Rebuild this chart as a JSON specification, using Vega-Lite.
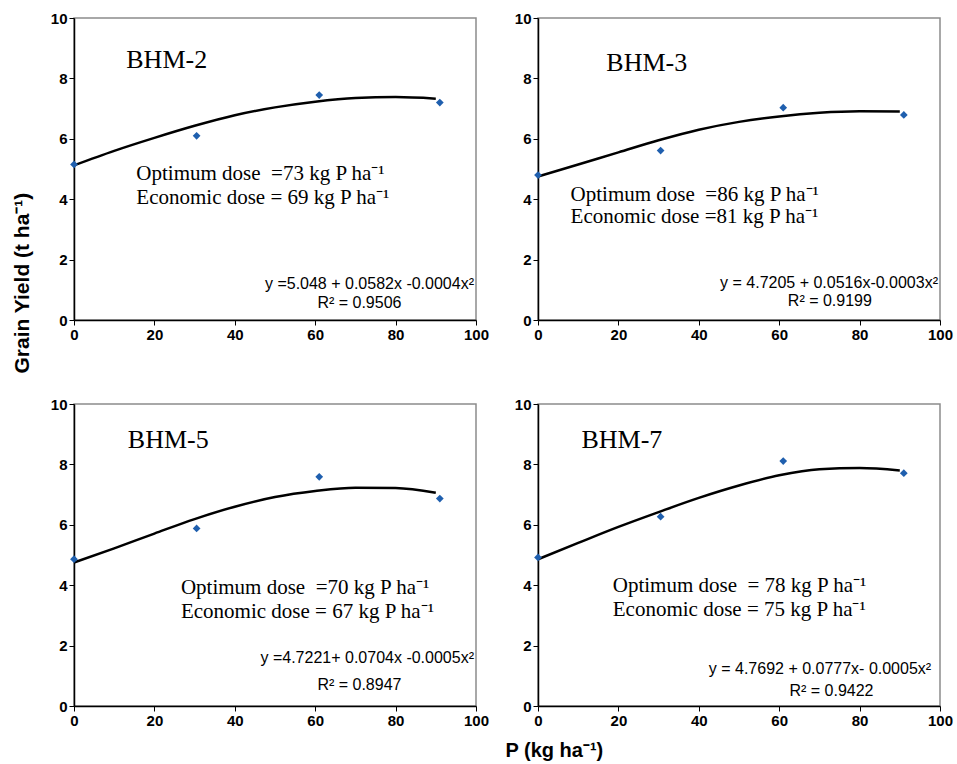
{
  "$schema": "https://vega.github.io/schema/vega-lite/v6.json",
  "background": "white",
  "padding": {"left": 10, "top": 10, "right": 5, "bottom": 5},
  "datasets": {
    "pts": [
      {"cultivar": "BHM-2", "P": 0, "yield": 5.15}, {"cultivar": "BHM-2", "P": 30.5, "yield": 6.1}, {"cultivar": "BHM-2", "P": 61, "yield": 7.45}, {"cultivar": "BHM-2", "P": 91, "yield": 7.2},
      {"cultivar": "BHM-3", "P": 0, "yield": 4.8}, {"cultivar": "BHM-3", "P": 30.5, "yield": 5.61}, {"cultivar": "BHM-3", "P": 61, "yield": 7.03}, {"cultivar": "BHM-3", "P": 91, "yield": 6.79},
      {"cultivar": "BHM-5", "P": 0, "yield": 4.86}, {"cultivar": "BHM-5", "P": 30.5, "yield": 5.88}, {"cultivar": "BHM-5", "P": 61, "yield": 7.59}, {"cultivar": "BHM-5", "P": 91, "yield": 6.87},
      {"cultivar": "BHM-7", "P": 0, "yield": 4.92}, {"cultivar": "BHM-7", "P": 30.5, "yield": 6.27}, {"cultivar": "BHM-7", "P": 61, "yield": 8.11}, {"cultivar": "BHM-7", "P": 91, "yield": 7.71}
    ],
    "fit": [
      {"cultivar": "BHM-2", "P": 0, "yield": 5.12}, {"cultivar": "BHM-2", "P": 10, "yield": 5.6}, {"cultivar": "BHM-2", "P": 20, "yield": 6.03}, {"cultivar": "BHM-2", "P": 30, "yield": 6.43}, {"cultivar": "BHM-2", "P": 40, "yield": 6.78}, {"cultivar": "BHM-2", "P": 50, "yield": 7.04}, {"cultivar": "BHM-2", "P": 60, "yield": 7.23}, {"cultivar": "BHM-2", "P": 70, "yield": 7.35}, {"cultivar": "BHM-2", "P": 80, "yield": 7.38}, {"cultivar": "BHM-2", "P": 90, "yield": 7.33},
      {"cultivar": "BHM-3", "P": 0, "yield": 4.75}, {"cultivar": "BHM-3", "P": 10, "yield": 5.15}, {"cultivar": "BHM-3", "P": 20, "yield": 5.55}, {"cultivar": "BHM-3", "P": 30, "yield": 5.95}, {"cultivar": "BHM-3", "P": 40, "yield": 6.3}, {"cultivar": "BHM-3", "P": 50, "yield": 6.56}, {"cultivar": "BHM-3", "P": 60, "yield": 6.74}, {"cultivar": "BHM-3", "P": 70, "yield": 6.86}, {"cultivar": "BHM-3", "P": 80, "yield": 6.91}, {"cultivar": "BHM-3", "P": 90, "yield": 6.9},
      {"cultivar": "BHM-5", "P": 0, "yield": 4.75}, {"cultivar": "BHM-5", "P": 10, "yield": 5.22}, {"cultivar": "BHM-5", "P": 20, "yield": 5.71}, {"cultivar": "BHM-5", "P": 30, "yield": 6.19}, {"cultivar": "BHM-5", "P": 40, "yield": 6.6}, {"cultivar": "BHM-5", "P": 50, "yield": 6.92}, {"cultivar": "BHM-5", "P": 60, "yield": 7.12}, {"cultivar": "BHM-5", "P": 70, "yield": 7.23}, {"cultivar": "BHM-5", "P": 80, "yield": 7.22}, {"cultivar": "BHM-5", "P": 90, "yield": 7.06},
      {"cultivar": "BHM-7", "P": 0, "yield": 4.86}, {"cultivar": "BHM-7", "P": 10, "yield": 5.4}, {"cultivar": "BHM-7", "P": 20, "yield": 5.93}, {"cultivar": "BHM-7", "P": 30, "yield": 6.42}, {"cultivar": "BHM-7", "P": 40, "yield": 6.89}, {"cultivar": "BHM-7", "P": 50, "yield": 7.3}, {"cultivar": "BHM-7", "P": 60, "yield": 7.64}, {"cultivar": "BHM-7", "P": 70, "yield": 7.84}, {"cultivar": "BHM-7", "P": 80, "yield": 7.88}, {"cultivar": "BHM-7", "P": 90, "yield": 7.8}
    ],
    "lbl": [
      {"cultivar": "BHM-2", "kind": "title", "P": 13, "yield": 8.6, "text": "BHM-2"},
      {"cultivar": "BHM-2", "kind": "dose", "P": 15.5, "yield": 4.85, "text": "Optimum dose\u00a0 =73 kg P ha⁻¹"},
      {"cultivar": "BHM-2", "kind": "dose", "P": 15.5, "yield": 4.03, "text": "Economic dose = 69 kg P ha⁻¹"},
      {"cultivar": "BHM-2", "kind": "eq", "P": 99.5, "yield": 1.18, "text": "y =5.048 + 0.0582x -0.0004x²"},
      {"cultivar": "BHM-2", "kind": "r2", "P": 71, "yield": 0.57, "text": "R² = 0.9506"},
      {"cultivar": "BHM-3", "kind": "title", "P": 17, "yield": 8.5, "text": "BHM-3"},
      {"cultivar": "BHM-3", "kind": "dose", "P": 8.1, "yield": 4.14, "text": "Optimum dose\u00a0 =86 kg P ha⁻¹"},
      {"cultivar": "BHM-3", "kind": "dose", "P": 8.1, "yield": 3.42, "text": "Economic dose =81 kg P ha⁻¹"},
      {"cultivar": "BHM-3", "kind": "eq", "P": 99.5, "yield": 1.24, "text": "y = 4.7205 + 0.0516x-0.0003x²"},
      {"cultivar": "BHM-3", "kind": "r2", "P": 72.6, "yield": 0.63, "text": "R² = 0.9199"},
      {"cultivar": "BHM-5", "kind": "title", "P": 13.4, "yield": 8.8, "text": "BHM-5"},
      {"cultivar": "BHM-5", "kind": "dose", "P": 26.6, "yield": 3.9, "text": "Optimum dose\u00a0 =70 kg P ha⁻¹"},
      {"cultivar": "BHM-5", "kind": "dose", "P": 26.6, "yield": 3.1, "text": "Economic dose = 67 kg P ha⁻¹"},
      {"cultivar": "BHM-5", "kind": "eq", "P": 99.5, "yield": 1.58, "text": "y =4.7221+ 0.0704x -0.0005x²"},
      {"cultivar": "BHM-5", "kind": "r2", "P": 71, "yield": 0.68, "text": "R² = 0.8947"},
      {"cultivar": "BHM-7", "kind": "title", "P": 10.8, "yield": 8.8, "text": "BHM-7"},
      {"cultivar": "BHM-7", "kind": "dose", "P": 18.6, "yield": 3.97, "text": "Optimum dose\u00a0 = 78 kg P ha⁻¹"},
      {"cultivar": "BHM-7", "kind": "dose", "P": 18.6, "yield": 3.18, "text": "Economic dose = 75 kg P ha⁻¹"},
      {"cultivar": "BHM-7", "kind": "eq", "P": 97.8, "yield": 1.24, "text": "y = 4.7692 + 0.0777x- 0.0005x²"},
      {"cultivar": "BHM-7", "kind": "r2", "P": 73, "yield": 0.5, "text": "R² = 0.9422"}
    ]
  },
  "columns": 2,
  "bounds": "flush",
  "spacing": {"column": 62, "row": 84},
  "concat": [
    {
      "width": 402, "height": 302,
      "encoding": {
        "x": {"field": "P", "type": "quantitative", "scale": {"domain": [0, 100]}, "axis": {"values": [0, 20, 40, 60, 80, 100], "title": null}},
        "y": {"field": "yield", "type": "quantitative", "scale": {"domain": [0, 10]}, "axis": {"values": [0, 2, 4, 6, 8, 10], "title": "Grain Yield (t ha⁻¹)", "titleX": -52, "titleY": 355, "titleAngle": 270, "titleAlign": "left", "titleBaseline": "middle", "titleFontSize": 21}}
      },
      "layer": [
        {"data": {"name": "fit"}, "transform": [{"filter": "datum.cultivar === 'BHM-2'"}], "mark": {"type": "line", "color": "black", "strokeWidth": 2.5, "interpolate": "monotone"}},
        {"data": {"name": "pts"}, "transform": [{"filter": "datum.cultivar === 'BHM-2'"}], "mark": {"type": "point", "shape": "diamond", "filled": true, "color": "#1f5fae", "size": 60, "opacity": 1}},
        {"data": {"name": "lbl"}, "transform": [{"filter": "datum.cultivar === 'BHM-2' && datum.kind === 'title'"}], "mark": {"type": "text", "font": "Liberation Serif", "fontSize": 26, "align": "left", "baseline": "middle", "color": "black"}, "encoding": {"text": {"field": "text"}}},
        {"data": {"name": "lbl"}, "transform": [{"filter": "datum.cultivar === 'BHM-2' && datum.kind === 'dose'"}], "mark": {"type": "text", "font": "Liberation Serif", "fontSize": 21, "align": "left", "baseline": "middle", "color": "black"}, "encoding": {"text": {"field": "text"}}},
        {"data": {"name": "lbl"}, "transform": [{"filter": "datum.cultivar === 'BHM-2' && datum.kind === 'eq'"}], "mark": {"type": "text", "font": "Liberation Sans", "fontSize": 16, "align": "right", "baseline": "middle", "color": "black"}, "encoding": {"text": {"field": "text"}}},
        {"data": {"name": "lbl"}, "transform": [{"filter": "datum.cultivar === 'BHM-2' && datum.kind === 'r2'"}], "mark": {"type": "text", "font": "Liberation Sans", "fontSize": 16, "align": "center", "baseline": "middle", "color": "black"}, "encoding": {"text": {"field": "text"}}}
      ]
    },
    {
      "width": 402, "height": 302,
      "encoding": {
        "x": {"field": "P", "type": "quantitative", "scale": {"domain": [0, 100]}, "axis": {"values": [0, 20, 40, 60, 80, 100], "title": null}},
        "y": {"field": "yield", "type": "quantitative", "scale": {"domain": [0, 10]}, "axis": {"values": [0, 2, 4, 6, 8, 10], "title": null}}
      },
      "layer": [
        {"data": {"name": "fit"}, "transform": [{"filter": "datum.cultivar === 'BHM-3'"}], "mark": {"type": "line", "color": "black", "strokeWidth": 2.5, "interpolate": "monotone"}},
        {"data": {"name": "pts"}, "transform": [{"filter": "datum.cultivar === 'BHM-3'"}], "mark": {"type": "point", "shape": "diamond", "filled": true, "color": "#1f5fae", "size": 60, "opacity": 1}},
        {"data": {"name": "lbl"}, "transform": [{"filter": "datum.cultivar === 'BHM-3' && datum.kind === 'title'"}], "mark": {"type": "text", "font": "Liberation Serif", "fontSize": 26, "align": "left", "baseline": "middle", "color": "black"}, "encoding": {"text": {"field": "text"}}},
        {"data": {"name": "lbl"}, "transform": [{"filter": "datum.cultivar === 'BHM-3' && datum.kind === 'dose'"}], "mark": {"type": "text", "font": "Liberation Serif", "fontSize": 21, "align": "left", "baseline": "middle", "color": "black"}, "encoding": {"text": {"field": "text"}}},
        {"data": {"name": "lbl"}, "transform": [{"filter": "datum.cultivar === 'BHM-3' && datum.kind === 'eq'"}], "mark": {"type": "text", "font": "Liberation Sans", "fontSize": 16, "align": "right", "baseline": "middle", "color": "black"}, "encoding": {"text": {"field": "text"}}},
        {"data": {"name": "lbl"}, "transform": [{"filter": "datum.cultivar === 'BHM-3' && datum.kind === 'r2'"}], "mark": {"type": "text", "font": "Liberation Sans", "fontSize": 16, "align": "center", "baseline": "middle", "color": "black"}, "encoding": {"text": {"field": "text"}}}
      ]
    },
    {
      "width": 402, "height": 302,
      "encoding": {
        "x": {"field": "P", "type": "quantitative", "scale": {"domain": [0, 100]}, "axis": {"values": [0, 20, 40, 60, 80, 100], "title": null}},
        "y": {"field": "yield", "type": "quantitative", "scale": {"domain": [0, 10]}, "axis": {"values": [0, 2, 4, 6, 8, 10], "title": null}}
      },
      "layer": [
        {"data": {"name": "fit"}, "transform": [{"filter": "datum.cultivar === 'BHM-5'"}], "mark": {"type": "line", "color": "black", "strokeWidth": 2.5, "interpolate": "monotone"}},
        {"data": {"name": "pts"}, "transform": [{"filter": "datum.cultivar === 'BHM-5'"}], "mark": {"type": "point", "shape": "diamond", "filled": true, "color": "#1f5fae", "size": 60, "opacity": 1}},
        {"data": {"name": "lbl"}, "transform": [{"filter": "datum.cultivar === 'BHM-5' && datum.kind === 'title'"}], "mark": {"type": "text", "font": "Liberation Serif", "fontSize": 26, "align": "left", "baseline": "middle", "color": "black"}, "encoding": {"text": {"field": "text"}}},
        {"data": {"name": "lbl"}, "transform": [{"filter": "datum.cultivar === 'BHM-5' && datum.kind === 'dose'"}], "mark": {"type": "text", "font": "Liberation Serif", "fontSize": 21, "align": "left", "baseline": "middle", "color": "black"}, "encoding": {"text": {"field": "text"}}},
        {"data": {"name": "lbl"}, "transform": [{"filter": "datum.cultivar === 'BHM-5' && datum.kind === 'eq'"}], "mark": {"type": "text", "font": "Liberation Sans", "fontSize": 16, "align": "right", "baseline": "middle", "color": "black"}, "encoding": {"text": {"field": "text"}}},
        {"data": {"name": "lbl"}, "transform": [{"filter": "datum.cultivar === 'BHM-5' && datum.kind === 'r2'"}], "mark": {"type": "text", "font": "Liberation Sans", "fontSize": 16, "align": "center", "baseline": "middle", "color": "black"}, "encoding": {"text": {"field": "text"}}}
      ]
    },
    {
      "width": 402, "height": 302,
      "encoding": {
        "x": {"field": "P", "type": "quantitative", "scale": {"domain": [0, 100]}, "axis": {"values": [0, 20, 40, 60, 80, 100], "title": "P (kg ha⁻¹)", "titleX": -33, "titleY": 44, "titleAlign": "left", "titleBaseline": "middle", "titleFontSize": 20}},
        "y": {"field": "yield", "type": "quantitative", "scale": {"domain": [0, 10]}, "axis": {"values": [0, 2, 4, 6, 8, 10], "title": null}}
      },
      "layer": [
        {"data": {"name": "fit"}, "transform": [{"filter": "datum.cultivar === 'BHM-7'"}], "mark": {"type": "line", "color": "black", "strokeWidth": 2.5, "interpolate": "monotone"}},
        {"data": {"name": "pts"}, "transform": [{"filter": "datum.cultivar === 'BHM-7'"}], "mark": {"type": "point", "shape": "diamond", "filled": true, "color": "#1f5fae", "size": 60, "opacity": 1}},
        {"data": {"name": "lbl"}, "transform": [{"filter": "datum.cultivar === 'BHM-7' && datum.kind === 'title'"}], "mark": {"type": "text", "font": "Liberation Serif", "fontSize": 26, "align": "left", "baseline": "middle", "color": "black"}, "encoding": {"text": {"field": "text"}}},
        {"data": {"name": "lbl"}, "transform": [{"filter": "datum.cultivar === 'BHM-7' && datum.kind === 'dose'"}], "mark": {"type": "text", "font": "Liberation Serif", "fontSize": 21, "align": "left", "baseline": "middle", "color": "black"}, "encoding": {"text": {"field": "text"}}},
        {"data": {"name": "lbl"}, "transform": [{"filter": "datum.cultivar === 'BHM-7' && datum.kind === 'eq'"}], "mark": {"type": "text", "font": "Liberation Sans", "fontSize": 16, "align": "right", "baseline": "middle", "color": "black"}, "encoding": {"text": {"field": "text"}}},
        {"data": {"name": "lbl"}, "transform": [{"filter": "datum.cultivar === 'BHM-7' && datum.kind === 'r2'"}], "mark": {"type": "text", "font": "Liberation Sans", "fontSize": 16, "align": "center", "baseline": "middle", "color": "black"}, "encoding": {"text": {"field": "text"}}}
      ]
    }
  ],
  "config": {
    "view": {"stroke": "#8c8c8c", "strokeWidth": 1.5},
    "axis": {
      "grid": false,
      "domainColor": "black",
      "domainWidth": 1.5,
      "tickColor": "black",
      "tickSize": 5,
      "labelFont": "Liberation Sans",
      "labelFontWeight": "bold",
      "labelFontSize": 15,
      "labelColor": "black",
      "labelFlush": false,
      "titleFont": "Liberation Sans",
      "titleFontWeight": "bold",
      "titleColor": "black"
    }
  }
}
